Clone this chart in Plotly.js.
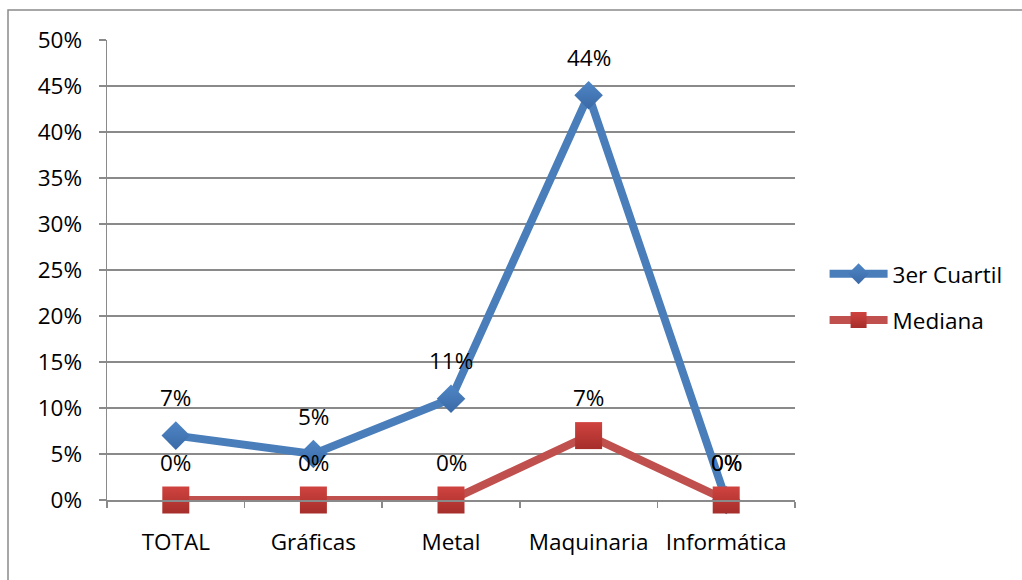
<!DOCTYPE html>
<html>
<head>
<meta charset="utf-8">
<script src="https://cdn.plot.ly/plotly-3.0.1.min.js"></script>
<style>
  html, body { margin: 0; padding: 0; background: #ffffff; }
  #chart { width: 1022px; height: 580px; }
</style>
</head>
<body>
<div id="chart"></div>
<script>
// Sector categories along the x axis
const categories = ['TOTAL', 'Gráficas', 'Metal', 'Maquinaria', 'Informática'];

// Series values (fractions, shown as percentages)
const tercerCuartil = [0.07, 0.05, 0.11, 0.44, 0.00];
const mediana = [0.00, 0.00, 0.00, 0.07, 0.00];

const seriesNames = ['3er Cuartil', 'Mediana'];

// Y axis tick values
const yTicks = [0, 0.05, 0.10, 0.15, 0.20, 0.25, 0.30, 0.35, 0.40, 0.45, 0.50];

const FONT = '"Open Sans", Lato, "DejaVu Sans", sans-serif';
const FS = 22.5;
const BLUE = '#4a7ebb';
const RED = '#c0504d';
const GRID = '#8a8a8a';

const pct = v => Math.round(v * 100) + '%';

const traces = [
  {
    x: categories,
    y: tercerCuartil,
    name: seriesNames[0],
    type: 'scatter',
    mode: 'lines+markers',
    cliponaxis: false,
    line: { color: BLUE, width: 8 },
    marker: {
      symbol: 'diamond',
      size: 22,
      color: '#4f86c6',
      gradient: { type: 'vertical', color: '#3a69a6' },
      line: { width: 0 }
    },
    legendgroup: 'a',
    hoverinfo: 'skip'
  },
  {
    x: categories,
    y: mediana,
    name: seriesNames[1],
    type: 'scatter',
    mode: 'lines+markers',
    cliponaxis: false,
    line: { color: RED, width: 8 },
    marker: {
      symbol: 'square',
      size: 27,
      color: '#d0433f',
      gradient: { type: 'vertical', color: '#a52e2b' },
      line: { width: 0 }
    },
    legendgroup: 'b',
    hoverinfo: 'skip'
  }
];

// Value labels above each point
const annotations = [];
[tercerCuartil, mediana].forEach(series => {
  series.forEach((v, i) => {
    annotations.push({
      x: categories[i],
      y: v,
      xref: 'x',
      yref: 'y',
      text: pct(v),
      showarrow: false,
      yshift: 38,
      xanchor: 'center',
      yanchor: 'middle',
      font: { family: FONT, size: FS, color: '#000000' }
    });
  });
});

const layout = {
  width: 1022,
  height: 580,
  margin: { l: 107, r: 227, t: 40, b: 80, pad: 0 },
  paper_bgcolor: '#ffffff',
  plot_bgcolor: '#ffffff',
  font: { family: FONT, size: FS, color: '#000000' },
  showlegend: true,
  legend: {
    x: 1.043,
    xanchor: 'left',
    y: 0.441,
    yanchor: 'middle',
    traceorder: 'grouped',
    tracegroupgap: 14,
    itemwidth: 58,
    font: { family: FONT, size: FS, color: '#000000' },
    bgcolor: 'rgba(0,0,0,0)'
  },
  xaxis: {
    type: 'category',
    range: [-0.5, 4.5],
    tickson: 'boundaries',
    ticks: 'outside',
    ticklen: 6,
    tickwidth: 1.5,
    tickcolor: GRID,
    showline: true,
    linecolor: GRID,
    linewidth: 1.5,
    showgrid: false,
    zeroline: false,
    ticklabelstandoff: 21,
    tickfont: { family: FONT, size: FS, color: '#000000' },
    fixedrange: true
  },
  yaxis: {
    range: [0, 0.5],
    tickvals: yTicks,
    tickformat: '.0%',
    ticks: 'outside',
    ticklen: 7,
    tickwidth: 1.5,
    tickcolor: GRID,
    showline: true,
    linecolor: GRID,
    linewidth: 1.5,
    showgrid: true,
    gridcolor: GRID,
    gridwidth: 1.5,
    zeroline: false,
    ticklabelstandoff: 12,
    tickfont: { family: FONT, size: FS, color: '#000000' },
    fixedrange: true
  },
  annotations: annotations,
  shapes: [
    {
      // outer chart frame
      type: 'rect',
      xref: 'paper',
      yref: 'paper',
      x0: (8 - 107) / 688,
      x1: (1040 - 107) / 688,
      y0: (500 - 600) / 460,
      y1: (500 - 10) / 460,
      line: { color: '#8a8a8a', width: 1.5 },
      fillcolor: 'rgba(0,0,0,0)',
      layer: 'below'
    }
  ]
};

Plotly.newPlot('chart', traces, layout, { displayModeBar: false, staticPlot: true });
</script>
</body>
</html>
